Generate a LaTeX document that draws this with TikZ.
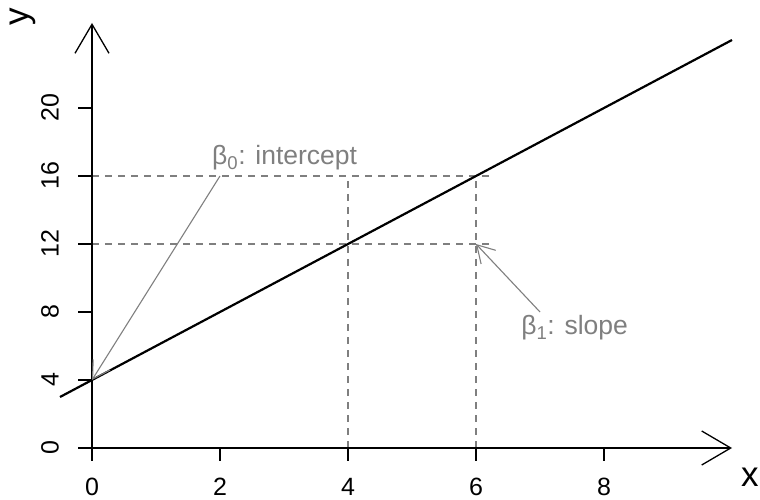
\documentclass[tikz,border=0pt]{standalone}
\usepackage{fontspec}
\setmainfont{Liberation Sans}
\usetikzlibrary{arrows.meta}
\definecolor{gr}{HTML}{7F7F7F}
\tikzset{
  axisline/.style={line width=1.3pt,-{Straight Barb[length=29pt,width=34pt,line width=1.3pt]}},
  tick/.style={line width=1.3pt},
  fitline/.style={line width=2.2pt},
  guide/.style={gr,line width=1.1pt,dash pattern=on 7pt off 6pt},
  pointer/.style={gr,line width=1.1pt,-{Straight Barb[length=17pt,width=20pt,line width=1.1pt]}},
  ticklab/.style={font=\fontsize{25}{29}\selectfont,inner sep=0pt},
  axlab/.style={font=\fontsize{35}{40}\selectfont,inner sep=0pt},
  note/.style={gr,font=\fontsize{26.5}{30}\selectfont,inner sep=0pt}
}
\begin{document}
\begin{tikzpicture}[x=64pt,y=17pt]
\useasboundingbox (-1.4375,-3.0588) rectangle (10.4375,26.353);
% reference points
\coordinate (O) at (0,0);
\coordinate (xend) at (10,0);
\coordinate (yend) at (0,25);
\coordinate (L0) at (-0.5,3);
\coordinate (L1) at (10,24);
\coordinate (b0) at (0,4);
\coordinate (h16) at (0,16);
\coordinate (h16e) at (6.2,16);
\coordinate (h12) at (0,12);
\coordinate (h12e) at (6.2,12);
\coordinate (v4) at (4,0);
\coordinate (v4e) at (4,16);
\coordinate (v6) at (6,0);
\coordinate (v6e) at (6,16);
\coordinate (p0) at (2,16);
\coordinate (p1s) at (7,8);
\coordinate (p1e) at (6,12);
% guides
\draw[guide] (h16) -- (h16e);
\draw[guide] (h12) -- (h12e);
\draw[guide] (v4) -- (v4e);
\draw[guide] (v6) -- (v6e);
% axes
\draw[axisline] (O) -- (xend);
\draw[axisline] (O) -- (yend);
\foreach \v in {0,2,4,6,8}{
  \draw[tick] (\v,0) -- ++(0,-13pt);
  \node[ticklab] (xl\v) at (\v,-2.29) {\v};
}
\foreach \v in {0,4,8,12,16,20}{
  \draw[tick] (0,\v) -- ++(-14pt,0);
  \node[ticklab,rotate=90] (yl\v) at (-0.656,\v) {\v};
}
\node[axlab] (xlab) at (10.28,-1.735) {x};
\node[axlab,rotate=90] (ylab) at (-1.086,25.35) {y};
% fitted line
\draw[fitline] (L0) -- (L1);
% annotations
\draw[pointer] (p0) -- (b0);
\draw[pointer] (p1s) -- (p1e);
\node[note] (t0) at (3.01,17.05) {β\textsubscript{0}: intercept};
\node[note] (t1) at (7.54,7.05) {β\textsubscript{1}: slope};
\end{tikzpicture}
\end{document}
